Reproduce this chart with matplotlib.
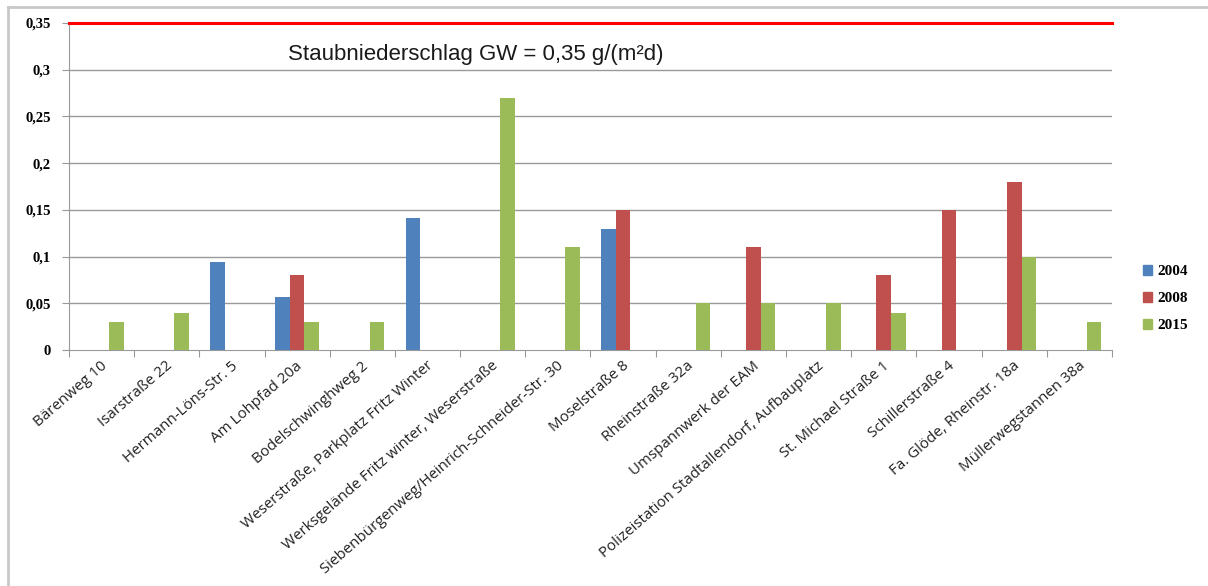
import numpy as np
import matplotlib.pyplot as plt
from matplotlib.lines import Line2D

# measuring points (x axis)
stations = [
    "Bärenweg 10",
    "Isarstraße 22",
    "Hermann-Löns-Str. 5",
    "Am Lohpfad 20a",
    "Bodelschwinghweg 2",
    "Weserstraße, Parkplatz Fritz Winter",
    "Werksgelände Fritz winter, Weserstraße",
    "Siebenbürgenweg/Heinrich-Schneider-Str. 30",
    "Moselstraße 8",
    "Rheinstraße 32a",
    "Umspannwerk der EAM",
    "Polizeistation Stadtallendorf, Aufbauplatz",
    "St. Michael Straße 1",
    "Schillerstraße 4",
    "Fa. Glöde, Rheinstr. 18a",
    "Müllerwegstannen 38a",
]

# dust deposition g/(m²d); 0 = no measurement
y2004 = [0, 0, 0.094, 0.057, 0, 0.141, 0, 0, 0.13, 0, 0, 0, 0, 0, 0, 0]
y2008 = [0, 0, 0, 0.08, 0, 0, 0, 0, 0.15, 0, 0.11, 0, 0.08, 0.15, 0.18, 0]
y2015 = [0.03, 0.04, 0, 0.03, 0.03, 0, 0.27, 0.11, 0, 0.05, 0.05, 0.05, 0.04, 0, 0.10, 0.03]

limit = 0.35
yticks = [0, 0.05, 0.1, 0.15, 0.2, 0.25, 0.3, 0.35]
ytick_labels = ["0", "0,05", "0,1", "0,15", "0,2", "0,25", "0,3", "0,35"]
years = ["2004", "2008", "2015"]
colors = ["#4F81BD", "#C0504D", "#9BBB59"]

fig = plt.figure(figsize=(12.08, 5.86), dpi=100)
ax = fig.add_axes([0.0571, 0.4027, 0.9205 - 0.0571, 0.9608 - 0.4027])

x = np.arange(len(stations))
w = 0.225
for off, vals, c in zip([-w, 0, w], [y2004, y2008, y2015], colors):
    ax.bar(x + off, vals, width=w, color=c, zorder=3)

# grid lines
for yt in yticks[1:-1]:
    ax.axhline(yt, color="#999999", lw=1.0, zorder=1)
ax.axhline(limit, color="#ff0000", lw=2.2, zorder=4, clip_on=False)

ax.set_xlim(-0.5, len(stations) - 0.5)
ax.set_ylim(0, 0.35)
ax.set_yticks(yticks)
ax.set_yticklabels(ytick_labels, fontfamily="Liberation Serif", fontweight="bold", fontsize=10.5)
ax.tick_params(axis="y", length=5, color="#999999", pad=8)

ax.set_xticks(np.arange(len(stations) + 1) - 0.5)
ax.set_xticklabels([])
ax.tick_params(axis="x", length=5, color="#999999")
for i, name in enumerate(stations):
    ax.text(i - 0.02, -0.009, name, rotation=41, ha="right", va="top",
            rotation_mode="anchor", fontsize=10.9, fontfamily="Open Sans",
            color="#222222", transform=ax.transData)

for s in ["top", "right"]:
    ax.spines[s].set_visible(False)
ax.spines["left"].set_color("#999999")
ax.spines["bottom"].set_color("#999999")

ax.text(0.39, 0.905, "Staubniederschlag GW = 0,35 g/(m²d)", transform=ax.transAxes,
        ha="center", va="center", fontsize=16, fontfamily="Liberation Sans", color="#1a1a1a")

handles = [plt.Rectangle((0, 0), 1, 1, color=c) for c in colors]
fig.legend(handles, years, loc="center left", bbox_to_anchor=(0.935, 0.49),
           frameon=False, handlelength=0.6, handleheight=0.6, handletextpad=0.3,
           labelspacing=0.9, prop={"family": "Liberation Serif", "weight": "bold", "size": 11})

# outer frame (top and left)
fig.add_artist(Line2D([8 / 1208, 1], [1 - 7 / 586, 1 - 7 / 586], color="#c8c8c8", lw=2))
fig.add_artist(Line2D([8 / 1208, 8 / 1208], [0, 1 - 7 / 586], color="#c8c8c8", lw=2))

fig.savefig("out.png", dpi=100)
